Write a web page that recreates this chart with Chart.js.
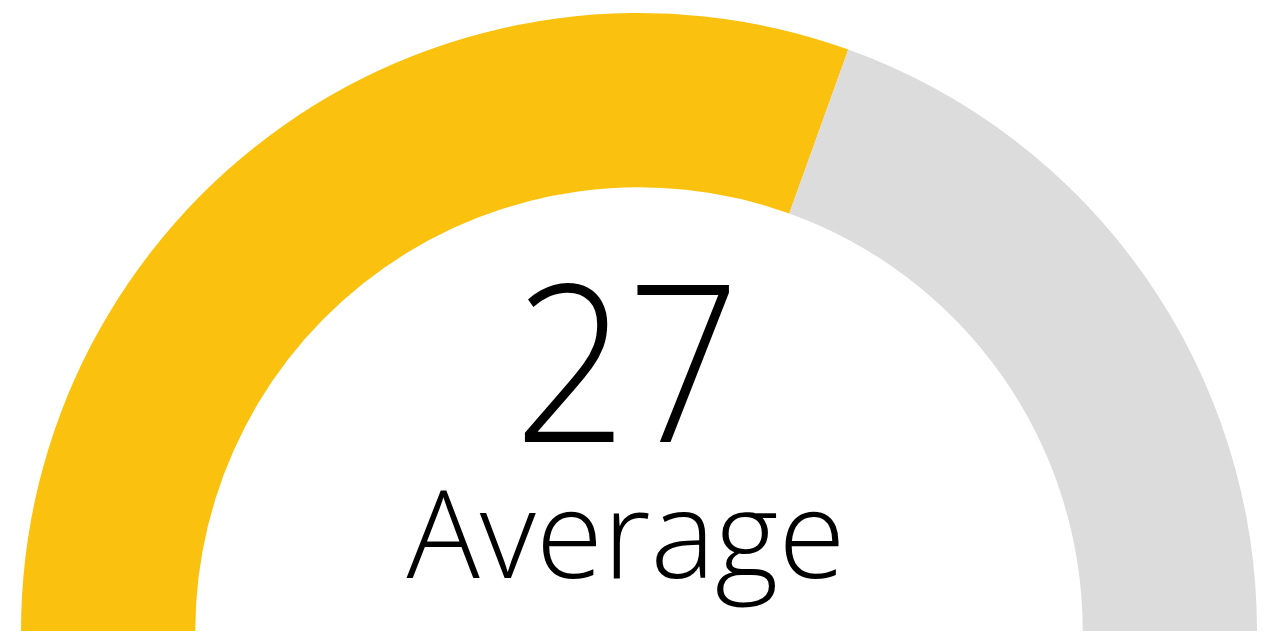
<!DOCTYPE html>
<html>
<head>
<meta charset="utf-8">
<script src="https://cdn.jsdelivr.net/npm/chart.js@4/dist/chart.umd.min.js"></script>
<style>
  html, body { margin: 0; padding: 0; background: #fff; }
  #wrap { width: 1280px; height: 632px; }
</style>
</head>
<body>
<div id="wrap"><canvas id="gauge"></canvas></div>
<script>
// gauge segments: filled part vs rest
const segmentLabels = ["Score", "Remaining"];
const segmentValues = [61, 39];
const segmentColors = ["#FAC20F", "#DCDCDC"];

const centerValue = "27";
const centerLabel = "Average";

// squeeze text a little sideways, Segoe-like digits are narrower than Open Sans
const drawSqueezed = (ctx, text, x, y, sx) => {
  ctx.save();
  ctx.translate(x, y);
  ctx.scale(sx, 1);
  ctx.fillText(text, 0, 0);
  ctx.restore();
};

// draws the big number + label in the middle of the half ring
const centerText = {
  id: "centerText",
  afterDraw(chart) {
    const ctx = chart.ctx;
    ctx.save();
    ctx.fillStyle = "#000";
    ctx.textAlign = "center";
    ctx.textBaseline = "alphabetic";
    ctx.font = "300 220px 'Open Sans'";
    drawSqueezed(ctx, centerValue, 627, 442, 0.9);
    ctx.font = "300 122px 'Open Sans'";
    drawSqueezed(ctx, centerLabel, 626, 578, 1.0);
    ctx.restore();
  },
};

new Chart(document.getElementById("gauge"), {
  type: "doughnut",
  data: {
    labels: segmentLabels,
    datasets: [
      {
        data: segmentValues,
        backgroundColor: segmentColors,
        borderWidth: 0,
      },
    ],
  },
  options: {
    responsive: true,
    maintainAspectRatio: false,
    animation: false,
    rotation: -90,
    circumference: 180,
    cutout: "71.8%",
    layout: { padding: { top: 13, bottom: 1, left: 0, right: 2 } },
    plugins: {
      legend: { display: false },
      tooltip: { enabled: false },
    },
  },
  plugins: [centerText],
});
</script>
</body>
</html>
